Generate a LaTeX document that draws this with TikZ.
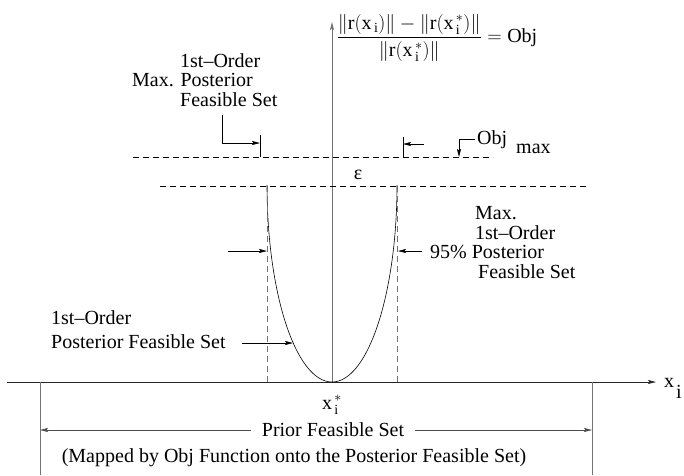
\documentclass[tikz,border=0pt]{standalone}
\usepackage{fix-cm}
\usepackage{amsmath}
\usepackage{fontspec}
\setmainfont{Liberation Serif}
\usetikzlibrary{arrows.meta}
\begin{document}
\begin{tikzpicture}[x=1pt,y=-1pt,
  lbl/.style={inner sep=0pt, font=\fontsize{20}{20}\selectfont},
  arr/.style={-{Stealth[length=8pt,width=4pt,inset=1.5pt]}, line width=0.6pt},
  thin/.style={line width=0.6pt},
  dsh/.style={dash pattern=on 6pt off 4pt, line width=0.6pt},
  axisgray/.style={draw=black!55, line width=0.9pt}]
\useasboundingbox (0,0) rectangle (684,475);

% axes
\coordinate (xa0) at (7,382);
\coordinate (xa1) at (656,382);
\coordinate (org) at (332,382);
\coordinate (ya1) at (332,22);
\draw[arr, line width=0.8pt, draw=black!85] (xa0) -- (xa1);
\draw[arr, axisgray] (org) -- (ya1);
\node[lbl, anchor=base west] (xlab) at (664,387) {x\hspace{2pt}\raisebox{-11pt}{i}};

% formula
\node[lbl, anchor=center] (form) at (437,38)
 {$\dfrac{\|\mathrm{r}(\mathrm{x}_{\,\mathrm{i}})\| - \|\mathrm{r}(\mathrm{x}^{\,*}_{\,\mathrm{i}})\|}{\|\mathrm{r}(\mathrm{x}^{\,*}_{\,\mathrm{i}})\|} = \mathrm{Obj}$};

% dashed horizontal levels
\coordinate (h1a) at (133,157); \coordinate (h1b) at (493,157);
\coordinate (h2a) at (160,186); \coordinate (h2b) at (588,186);
\draw[dsh] (h1a) -- (h1b);
\draw[dsh] (h2a) -- (h2b);
\node[lbl] (eps) at (358,175) {ε};

% top-left label
\node[lbl, anchor=base west] (tl1) at (180,67) {1st--Order};
\node[lbl, anchor=base west] (tl2) at (132,86) {Max. Posterior};
\node[lbl, anchor=base west] (tl3) at (180,106) {Feasible Set};
\coordinate (tla) at (222,115);
\coordinate (tlt) at (260,143);
\coordinate (tk1a) at (260,135); \coordinate (tk1b) at (260,157);
\draw[thin] (tk1a) -- (tk1b);
\draw[arr] (tla) |- (tlt);

% right tick on upper level
\coordinate (tk2a) at (403,137); \coordinate (tk2b) at (403,157);
\coordinate (tk2m) at (403,144); \coordinate (tk2s) at (424,144);
\draw[thin] (tk2a) -- (tk2b);
\draw[arr] (tk2s) -- (tk2m);

% Obj max
\node[lbl, anchor=base west] (objm) at (477,144) {Obj\hspace{9pt}\raisebox{-9pt}{max}};
\coordinate (oma) at (475,139);
\coordinate (omb) at (459,157);
\draw[arr] (oma) -| (omb);

% curve and dashed verticals
\draw[line width=0.6pt] plot[domain=180:360, samples=80] ({332+65*cos(\x)}, {185-197*sin(\x)});
\coordinate (dl0) at (267,186); \coordinate (dl1) at (267,382);
\coordinate (dr0) at (397,186); \coordinate (dr1) at (397,382);
\draw[dsh, draw=black!55] (dl0) -- (dl1);
\draw[dsh, draw=black!55] (dr0) -- (dr1);

% arrows at 95% level
\coordinate (la0) at (228,251); \coordinate (la1) at (267,251);
\draw[arr] (la0) -- (la1);
\coordinate (ra0) at (422,251); \coordinate (ra1) at (398,251);
\draw[arr] (ra0) -- (ra1);

% right label
\node[lbl, anchor=base west] (rl1) at (475,219) {Max.};
\node[lbl, anchor=base west] (rl2) at (475,239) {1st--Order};
\node[lbl, anchor=base west] (rl3) at (430,258) {95\% Posterior};
\node[lbl, anchor=base west] (rl4) at (478,278) {Feasible Set};

% bottom-left label
\node[lbl, anchor=base west] (bl1) at (51,324) {1st--Order};
\node[lbl, anchor=base west] (bl2) at (51,348) {Posterior Feasible Set};
\coordinate (ba0) at (242,343); \coordinate (ba1) at (293,343);
\draw[arr] (ba0) -- (ba1);

% x_i^*
\node[lbl] (xstar) at (332,405) {$\mathrm{x}^{\,*}_{\,\mathrm{i}}$};

% prior feasible set
\coordinate (pv1a) at (40,382); \coordinate (pv1b) at (40,475);
\coordinate (pv2a) at (592,382); \coordinate (pv2b) at (592,475);
\draw[axisgray, line width=0.8pt] (pv1a) -- (pv1b);
\draw[axisgray, line width=0.8pt] (pv2a) -- (pv2b);
\node[lbl, inner xsep=11pt] (pfs) at (333,430) {Prior Feasible Set};
\coordinate (pl) at (40,430); \coordinate (pr) at (592,430);
\draw[arr, draw=black!70] (pfs.west) -- (pl);
\draw[arr, draw=black!70] (pfs.east) -- (pr);
\node[lbl] (mapped) at (294,458) {(Mapped by Obj Function onto the Posterior Feasible Set)};
\end{tikzpicture}
\end{document}
